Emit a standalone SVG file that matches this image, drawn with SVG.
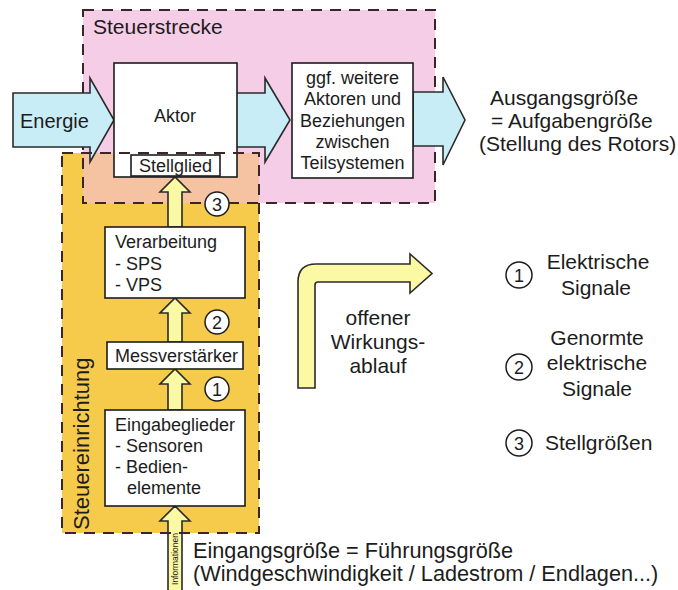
<svg xmlns="http://www.w3.org/2000/svg" width="678" height="590" viewBox="0 0 678 590">
<style>
text{font-family:"Liberation Sans",Arial,sans-serif;fill:#1c1c1c}
.box{fill:#fff;stroke:#1c1c1c;stroke-width:1.6}
.dash{fill:none;stroke:#3a2626;stroke-width:2;stroke-dasharray:11 8}
.blue{fill:#c9edf6;stroke:#2a2a2a;stroke-width:1.6;stroke-linejoin:miter}
.yarr{fill:#fbf9a4;stroke:#2a2a2a;stroke-width:1.6}
.num{fill:#fff;stroke:#1c1c1c;stroke-width:1.5}
.t18{font-size:18px}
.t21{font-size:21px}
</style>
<rect width="678" height="590" fill="#fff"/>
<g id="regions">
<rect x="83" y="10" width="352" height="193" fill="#f6cde7"/>
<rect x="62" y="153" width="197" height="380" fill="#f6cb4c"/>
<rect x="83" y="153" width="176" height="50" fill="#f5c2a2"/>
<rect class="dash" x="83" y="10" width="352" height="193"/>
<text x="93" y="34" class="t21">Steuerstrecke</text>
<text transform="translate(89,530) rotate(-90)" style="font-size:22px">Steuereinrichtung</text>
</g>
<g id="connectors">
<polygon class="blue" points="13,93 90,93 90,78 114,120 90,162 90,147 13,147"/>
<polygon class="blue" points="236,93 265,93 265,78 290,120 265,162 265,147 236,147"/>
<polygon class="blue" points="413,92 443,92 443,77 465,120 443,165 443,146 413,146"/>
<polygon class="yarr" points="168,227 168,192 160,192 175,177 190,192 182,192 182,227"/>
<polygon class="yarr" points="168,342 168,313 160,313 175,298 190,313 182,313 182,342"/>
<polygon class="yarr" points="168,410 168,384 160,384 175,369 190,384 182,384 182,410"/>
<polygon class="yarr" points="168,595 168,521 160,521 175,506 190,521 182,521 182,595"/>
<text transform="translate(178,559) rotate(-90)" text-anchor="middle" style="font-size:8.5px">Informationen</text>
</g>
<g id="energie"><text x="20" y="128" style="font-size:20px">Energie</text></g>
<g id="aktor">
<rect class="box" x="114" y="63" width="123" height="114"/>
<text x="175" y="122" class="t18" text-anchor="middle">Aktor</text>
</g>
<rect class="dash" x="62" y="153" width="197" height="380"/>
<g id="stellglied">
<rect class="box" x="131" y="155" width="89" height="21"/>
<text x="175.5" y="172" class="t18" text-anchor="middle">Stellglied</text>
</g>
<g id="weitere">
<rect class="box" x="292" y="63" width="121" height="115"/>
<text x="352.5" y="84" class="t18" text-anchor="middle">ggf. weitere</text>
<text x="352.5" y="105" class="t18" text-anchor="middle">Aktoren und</text>
<text x="352.5" y="127" class="t18" text-anchor="middle">Beziehungen</text>
<text x="352.5" y="148" class="t18" text-anchor="middle">zwischen</text>
<text x="352.5" y="169" class="t18" text-anchor="middle">Teilsystemen</text>
</g>
<g id="ausgang">
<text x="490" y="105" class="t21">Ausgangsgröße</text>
<text x="491" y="128" class="t21">= Aufgabengröße</text>
<text x="479" y="151" class="t21">(Stellung des Rotors)</text>
</g>
<g id="verarbeitung">
<rect class="box" x="105" y="227" width="140" height="71"/>
<text x="115" y="248" class="t18">Verarbeitung</text>
<text x="115" y="270" class="t18">- SPS</text>
<text x="115" y="291" class="t18">- VPS</text>
</g>
<g id="messverstaerker">
<rect class="box" x="107" y="342" width="136" height="27"/>
<text x="115" y="362" class="t18">Messverstärker</text>
</g>
<g id="eingabeglieder">
<rect class="box" x="105" y="410" width="140" height="96"/>
<text x="115" y="431" class="t18">Eingabeglieder</text>
<text x="115" y="452" class="t18">- Sensoren</text>
<text x="115" y="473" class="t18">- Bedien-</text>
<text x="127" y="494" class="t18">elemente</text>
</g>
<g id="marks">
<circle class="num" cx="217" cy="204" r="12"/><text x="217" y="210.5" class="t18" text-anchor="middle">3</text>
<circle class="num" cx="217" cy="322" r="12"/><text x="217" y="328.5" class="t18" text-anchor="middle">2</text>
<circle class="num" cx="217" cy="389" r="12"/><text x="217" y="395.5" class="t18" text-anchor="middle">1</text>
</g>
<g id="wirkungsablauf">
<path class="yarr" d="M298,388 V282 Q298,264 316,264 H410 V254 L432,273.5 L410,293 V282 H318 Q315,282 315,285 V388 Z"/>
<text x="378" y="325" class="t21" text-anchor="middle">offener</text>
<text x="378" y="349" class="t21" text-anchor="middle">Wirkungs-</text>
<text x="378" y="373" class="t21" text-anchor="middle">ablauf</text>
</g>
<g id="legend">
<circle class="num" cx="519" cy="275" r="13"/><text x="519" y="281.5" class="t18" text-anchor="middle">1</text>
<text x="598" y="269" class="t21" text-anchor="middle">Elektrische</text>
<text x="596" y="295" class="t21" text-anchor="middle">Signale</text>
<circle class="num" cx="519" cy="367" r="13"/><text x="519" y="373.5" class="t18" text-anchor="middle">2</text>
<text x="597" y="345" class="t21" text-anchor="middle">Genormte</text>
<text x="597" y="370" class="t21" text-anchor="middle">elektrische</text>
<text x="597" y="396" class="t21" text-anchor="middle">Signale</text>
<circle class="num" cx="519" cy="443" r="13"/><text x="519" y="449.5" class="t18" text-anchor="middle">3</text>
<text x="545" y="450" class="t21">Stellgrößen</text>
</g>
<g id="eingang">
<text x="193" y="558" style="font-size:21.7px">Eingangsgröße = Führungsgröße</text>
<text x="193" y="581" style="font-size:21.7px">(Windgeschwindigkeit / Ladestrom / Endlagen...)</text>
</g>
</svg>
